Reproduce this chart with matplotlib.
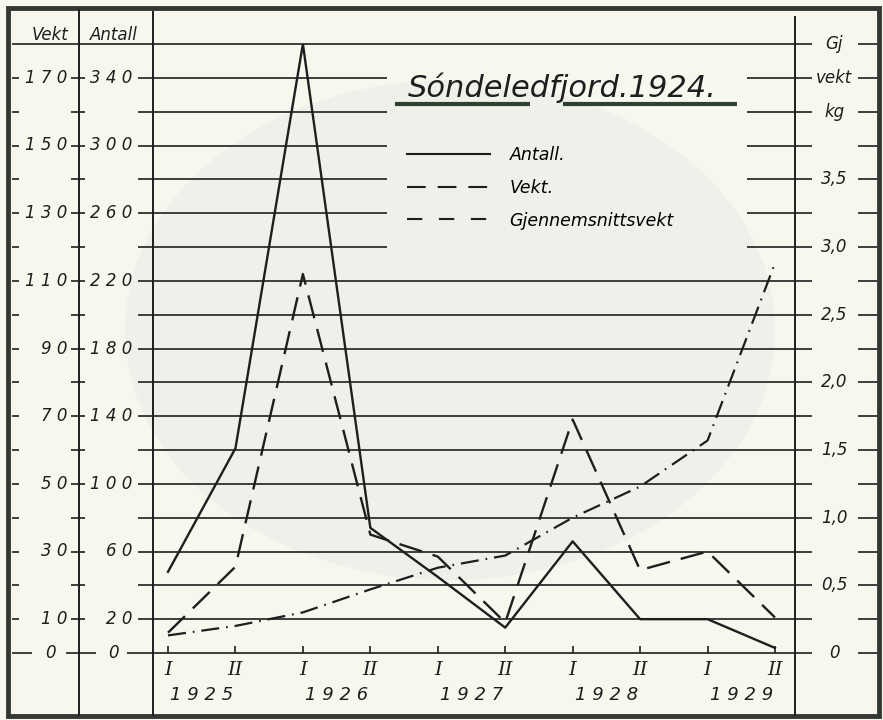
import numpy as np
import matplotlib.pyplot as plt
from matplotlib.lines import Line2D
from matplotlib.patches import Ellipse, Rectangle
from matplotlib.transforms import blended_transform_factory as blend

plt.rcParams['lines.scale_dashes'] = False
plt.rcParams['font.family'] = ['DejaVu Sans']

# half-year periods 1925-1929
periods = ['I', 'II', 'I', 'II', 'I', 'II', 'I', 'II', 'I', 'II']
years = ['1 9 2 5', '1 9 2 6', '1 9 2 7', '1 9 2 8', '1 9 2 9']
antall = [48, 121, 360, 74, 45, 15, 66, 20, 20, 3]
vekt = [6, 25.5, 112, 35, 28.5, 9, 69, 24.5, 30, 10.5]
gj_vekt = [0.13, 0.20, 0.30, 0.47, 0.63, 0.72, 1.0, 1.23, 1.57, 2.88]

# axis labels
antall_ticks = [0, 20, 60, 100, 140, 180, 220, 260, 300, 340]
vekt_ticks = [0, 10, 30, 50, 70, 90, 110, 130, 150, 170]
gj_ticks = [0, 0.5, 1.0, 1.5, 2.0, 2.5, 3.0, 3.5]
gj_labels = ['0', '0,5', '1,0', '1,5', '2,0', '2,5', '3,0', '3,5']
gj_head = ['Gj', 'vekt', 'kg']
grid_levels = list(range(20, 361, 20))

INK = '#1e1e1e'
BG = '#f8f7ee'
W, H = 883, 720

fig = plt.figure(figsize=(W / 100, H / 100), dpi=100)
fig.patch.set_facecolor(BG)


def fx(px):
    return px / W


def fy(py):
    return 1 - py / H


# faint show-through of the back page
fig.add_artist(Ellipse((fx(450), fy(330)), 650 / W, 500 / H,
                       transform=fig.transFigure, color='#f0f0ea', lw=0, zorder=0))

L, R, T, B = 153, 795, 44, 653
ax = fig.add_axes([fx(L), fy(B), (R - L) / W, (B - T) / H])
ax.set_facecolor('none')
x = np.arange(len(periods))
ax.set_xlim(-(168 - L) / 67.4, 9 + (R - 775) / 67.4)
ax.set_ylim(0, 360)
for s in ax.spines.values():
    s.set_visible(False)

ax_v = ax.twinx()
ax_v.set_ylim(0, 180)
ax_v.set_axis_off()
ax_g = ax.twinx()
ax_g.set_ylim(0, 4.5)
ax_g.set_axis_off()


def axx(px):
    return (px - L) / (R - L)


def hseg(p0, p1, v, lw=1.2):
    ax.plot([axx(p0), axx(p1)], [v, v], color=INK, lw=lw,
            transform=blend(ax.transAxes, ax.transData), clip_on=False,
            solid_capstyle='butt', zorder=1)


# horizontal rulings
for v in grid_levels:
    if v == 360:
        hseg(12, 812, v)
    elif 240 <= v <= 340:
        hseg(138, 387, v)
        hseg(747, 812, v)
    else:
        hseg(138, 812, v)
    if v != 360:
        hseg(12, 19, v)
        hseg(71, 85, v)
    hseg(858, 878, v)
# zero line
hseg(12, 32, 0)
hseg(66, 96, 0)
hseg(127, 812, 0)
hseg(858, 878, 0)

# vertical axis lines
for px, top in [(79, 10), (153, 12), (795, 17)]:
    fig.add_artist(Line2D([fx(px), fx(px)], [fy(top), fy(715)], color=INK,
                          lw=1.4, transform=fig.transFigure))

# frame
fig.add_artist(Rectangle((fx(8), fy(716)), 871 / W, 708 / H, fill=False,
                         ec='#333833', lw=3.5, transform=fig.transFigure))

lab = dict(style='italic', fontsize=12, color=INK)
tv = blend(ax.transAxes, ax_v.transData)
ta = blend(ax.transAxes, ax.transData)
tg = blend(ax.transAxes, ax_g.transData)
for v in vekt_ticks:
    if v == 0:
        ax.text(axx(50), v, '0', ha='center', va='center', transform=tv, **lab)
    else:
        ax.text(axx(67), v, ' '.join(str(v)), ha='right', va='center', transform=tv, **lab)
for v in antall_ticks:
    if v == 0:
        ax.text(axx(113), v, '0', ha='center', va='center', transform=ta, **lab)
    else:
        ax.text(axx(132), v, ' '.join(str(v)), ha='right', va='center', transform=ta, **lab)
for v, s in zip(gj_ticks, gj_labels):
    ax.text(axx(834), v, s, ha='center', va='center', transform=tg, **lab)
for i, s in enumerate(gj_head):
    ax.text(axx(834), 4.5 - 0.25 * i, s, ha='center', va='center', transform=tg,
            style='italic', fontsize=12, color=INK)
ax.text(axx(50), 360, 'Vekt', ha='center', va='bottom', transform=ta, **lab)
ax.text(axx(114), 360, 'Antall', ha='center', va='bottom', transform=ta, **lab)

# curves
ax.plot(x, antall, color=INK, lw=1.7, zorder=3)
ax_v.plot(x, vekt, color=INK, lw=1.7, ls=(0, (17, 8)), zorder=3)
ax_g.plot(x, gj_vekt, color=INK, lw=1.6, ls=(0, (13, 5, 1.2, 5)), zorder=3)

# x axis
ax.set_yticks([])
ax.set_xticks(x)
ax.set_xticklabels(periods)
ax.tick_params(axis='x', direction='in', length=5, width=1.2, pad=6, color=INK)
for t in ax.get_xticklabels():
    t.set_fontfamily('DejaVu Serif')
    t.set_style('italic')
    t.set_fontsize(14)
    t.set_color(INK)
for i, yr in enumerate(years):
    ax.text(x[2 * i] + 0.5, (B - 695) / (B - T), yr, ha='center', va='center',
            transform=blend(ax.transData, ax.transAxes), style='italic',
            fontsize=13, color=INK)

# title
fig.text(fx(408), fy(97), 'Sóndeledfjord.1924.', style='italic', fontsize=22,
         color=INK, va='baseline')
for p0, p1 in [(395, 530), (563, 737)]:
    fig.add_artist(Line2D([fx(p0), fx(p1)], [fy(104), fy(104)], color='#2f4230',
                          lw=3, transform=fig.transFigure, solid_capstyle='butt'))

# legend
handles = [Line2D([], [], color=INK, lw=1.5),
           Line2D([], [], color=INK, lw=1.5, ls=(0, (13.5, 8.6))),
           Line2D([], [], color=INK, lw=1.5, ls=(0, (11, 12)))]
ax.legend(handles, ['Antall.', 'Vekt.', 'Gjennemsnittsvekt'], loc='upper left',
          bbox_to_anchor=(fx(407), fy(146)), bbox_transform=fig.transFigure,
          frameon=False, borderpad=0, borderaxespad=0, handlelength=4.8,
          handletextpad=1.1, labelspacing=0.85,
          prop=dict(style='italic', size=12.5))

fig.savefig('out.png', dpi=100, facecolor=BG)
